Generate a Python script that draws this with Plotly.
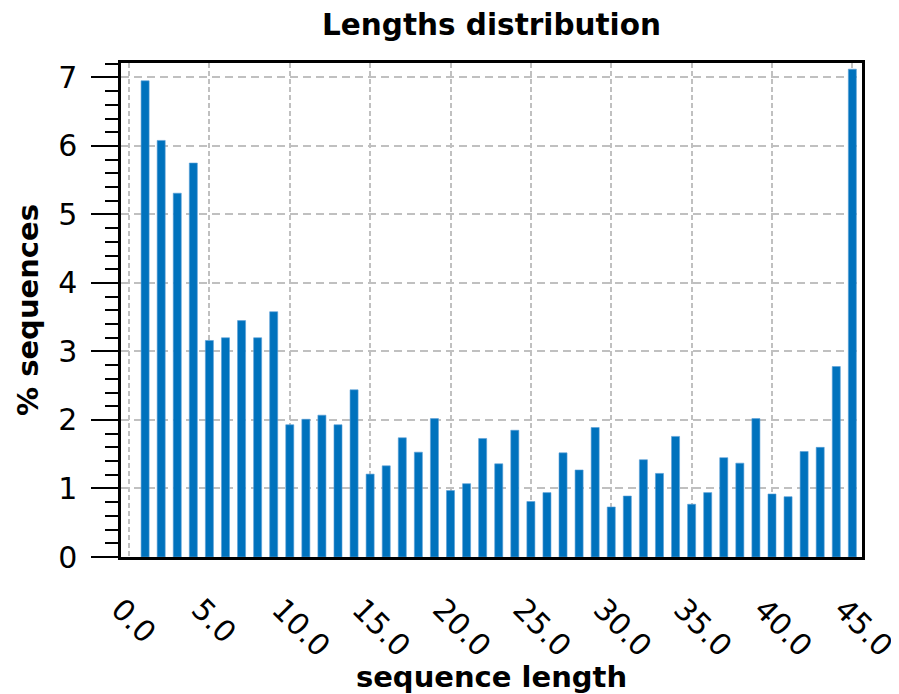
import plotly.graph_objects as go

lengths = list(range(1, 46))
percent = [6.95, 6.08, 5.31, 5.75, 3.16, 3.20, 3.45, 3.20, 3.58, 1.93,
           2.01, 2.07, 1.93, 2.44, 1.21, 1.33, 1.74, 1.53, 2.02, 0.97,
           1.07, 1.73, 1.36, 1.85, 0.81, 0.94, 1.52, 1.27, 1.89, 0.73,
           0.89, 1.42, 1.22, 1.76, 0.77, 0.94, 1.45, 1.37, 2.02, 0.92,
           0.88, 1.54, 1.60, 2.78, 7.12]
xtick_vals = [0, 5, 10, 15, 20, 25, 30, 35, 40, 45]
xtick_text = ["0.0", "5.0", "10.0", "15.0", "20.0", "25.0", "30.0", "35.0", "40.0", "45.0"]

FONT = "DejaVu Sans"

fig = go.Figure()
fig.add_trace(go.Bar(x=lengths, y=percent, width=0.5,
                     marker=dict(color="#0072BD", line=dict(width=0.6, color="#5aa0d6"))))

# page is rendered with an 8px body margin, so the figure is sized to fit
fig.update_layout(
    width=891, height=686,
    margin=dict(l=113, r=37, t=55, b=137, autoexpand=False),
    paper_bgcolor="white", plot_bgcolor="white",
    showlegend=False,
    font=dict(family=FONT, color="black", size=30),
    title=dict(text="<b>Lengths distribution</b>", x=0.5, xref="paper", xanchor="center",
               y=0.975, yanchor="middle", font=dict(family=FONT, size=29.5, color="black")),
)

fig.update_xaxes(
    range=[-0.5, 45.6], automargin=False, ticklabeloverflow="allow",
    tickmode="array", tickvals=xtick_vals, ticktext=xtick_text,
    tickangle=45, ticks="", ticklabelshift=-9, ticklabelstandoff=20,
    tickfont=dict(family=FONT, size=30, color="black"),
    showgrid=True, gridcolor="#c0c0c0", gridwidth=2, griddash="5px,3px",
    showline=True, linecolor="black", linewidth=2.5, mirror=True,
    zeroline=False,
    title=dict(text="<b>sequence length</b>", font=dict(family=FONT, size=29, color="black"), standoff=0),
)

fig.update_yaxes(
    range=[0, 7.21], automargin=False,
    tickmode="array", tickvals=[0, 1, 2, 3, 4, 5, 6, 7],
    ticks="outside", ticklen=27, tickwidth=2, tickcolor="black",
    ticklabelstandoff=8,
    minor=dict(dtick=0.2, tick0=0, ticks="outside", ticklen=13, tickwidth=2, tickcolor="black", showgrid=False),
    tickfont=dict(family=FONT, size=30, color="black"),
    showgrid=True, gridcolor="#c0c0c0", gridwidth=2, griddash="8px,5px",
    showline=True, linecolor="black", linewidth=2.5, mirror=True,
    zeroline=False,
    title=dict(text="<b>% sequences</b>", font=dict(family=FONT, size=29, color="black"), standoff=12),
)

fig.write_html("out.html")
